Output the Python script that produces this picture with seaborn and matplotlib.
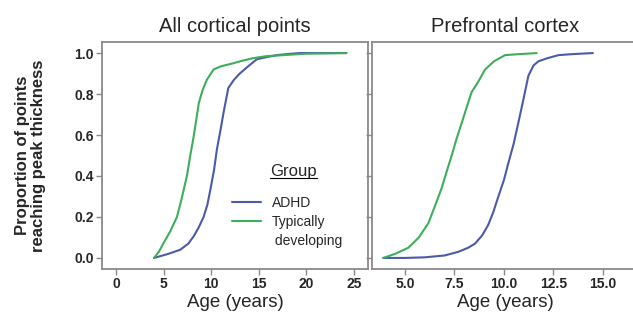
import numpy as np
import pandas as pd
import matplotlib.pyplot as plt
import matplotlib.transforms as mtransforms
import seaborn as sns

# curves (age in years, proportion reaching peak)
all_adhd_x = [4.0, 5.5, 6.75, 7.6, 8.15, 8.7, 9.2, 9.6, 9.9, 10.3, 10.6, 11.0, 11.3, 11.8, 12.4, 13.0, 14.0, 14.8, 15.8, 16.9, 18.0, 19.3, 21.0, 24.2]
all_adhd_y = [0.0, 0.02, 0.04, 0.07, 0.105, 0.15, 0.2, 0.26, 0.33, 0.43, 0.53, 0.63, 0.71, 0.83, 0.87, 0.9, 0.94, 0.97, 0.98, 0.99, 0.995, 1.0, 1.0, 1.0]
all_td_x = [4.0, 4.5, 5.0, 5.7, 6.4, 6.9, 7.45, 7.8, 8.15, 8.7, 9.1, 9.55, 10.25, 11.0, 12.3, 13.3, 14.4, 15.8, 17.6, 20.0, 24.2]
all_td_y = [0.0, 0.03, 0.073, 0.13, 0.2, 0.29, 0.4, 0.5, 0.59, 0.756, 0.82, 0.87, 0.92, 0.935, 0.95, 0.963, 0.975, 0.985, 0.99, 0.997, 1.0]

pfc_adhd_x = [3.9, 5.0, 6.0, 7.0, 7.7, 8.2, 8.54, 8.9, 9.2, 9.45, 9.72, 10.0, 10.23, 10.5, 10.73, 11.0, 11.24, 11.5, 11.75, 12.2, 12.76, 13.5, 14.5]
pfc_adhd_y = [0.0, 0.0, 0.003, 0.012, 0.03, 0.05, 0.07, 0.11, 0.16, 0.22, 0.3, 0.38, 0.465, 0.56, 0.66, 0.78, 0.89, 0.94, 0.96, 0.975, 0.99, 0.995, 1.0]
pfc_td_x = [3.9, 4.5, 5.17, 5.7, 6.18, 6.5, 6.85, 7.1, 7.36, 7.6, 7.87, 8.1, 8.37, 8.7, 9.05, 9.5, 10.06, 10.8, 11.66]
pfc_td_y = [0.0, 0.02, 0.05, 0.1, 0.17, 0.25, 0.34, 0.42, 0.5, 0.58, 0.66, 0.73, 0.81, 0.86, 0.92, 0.96, 0.99, 0.995, 1.0]

groups = ["ADHD", "Typically\n developing"]
colors = ["#4b5aab", "#3dae5a"]


def make_df(adhd_x, adhd_y, td_x, td_y):
    a = pd.DataFrame({"age": adhd_x, "prop": adhd_y, "group": groups[0]})
    t = pd.DataFrame({"age": td_x, "prop": td_y, "group": groups[1]})
    return pd.concat([a, t], ignore_index=True)


sns.set_style("white")
plt.rcParams["font.family"] = ["Liberation Sans", "DejaVu Sans"]

fig = plt.figure(figsize=(6.33, 3.21), dpi=100)
ax1 = fig.add_axes([102 / 633, 52 / 321, 266 / 633, 227 / 321])
ax2 = fig.add_axes([372 / 633, 52 / 321, 266 / 633, 227 / 321])

palette = dict(zip(groups, colors))
sns.lineplot(data=make_df(all_adhd_x, all_adhd_y, all_td_x, all_td_y), x="age", y="prop",
             hue="group", palette=palette, sort=False, estimator=None, lw=1.5, ax=ax1)
sns.lineplot(data=make_df(pfc_adhd_x, pfc_adhd_y, pfc_td_x, pfc_td_y), x="age", y="prop",
             hue="group", palette=palette, sort=False, estimator=None, lw=1.5, ax=ax2, legend=False)

ax1.set_xlim(-1.47, 26.47)
ax1.set_xticks([0, 5, 10, 15, 20, 25])
ax2.set_xlim(3.33, 16.78)
ax2.set_xticks([5.0, 7.5, 10.0, 12.5, 15.0])
ax2.set_xticklabels(["5.0", "7.5", "10.0", "12.5", "15.0"])

for ax in (ax1, ax2):
    ax.set_ylim(-0.054, 1.054)
    ax.set_yticks([0.0, 0.2, 0.4, 0.6, 0.8, 1.0])
    for s in ax.spines.values():
        s.set_color("#8a8a8a")
        s.set_linewidth(1.3)
    ax.tick_params(axis="both", direction="out", length=4, width=1, color="#8a8a8a",
                   labelsize=10, pad=2, left=True, bottom=True)
    for lab in ax.get_xticklabels() + ax.get_yticklabels():
        lab.set_fontweight("bold")
    ax.set_xlabel("Age (years)", fontsize=13.5, labelpad=2)
    ax.set_ylabel("")

ax1.set_yticklabels(["0.0", "0.2", "0.4", "0.6", "0.8", "1.0"], fontweight="bold")
ax2.set_yticklabels([])
ax1.set_title("All cortical points", fontsize=14.5, pad=7)
ax2.set_title("Prefrontal cortex", fontsize=14.5, pad=7)
ax1.set_ylabel("Proportion of points\nreaching peak thickness", fontsize=12,
               fontweight="bold", labelpad=20, linespacing=1.1)

leg = ax1.legend(title="Group", frameon=False, loc="lower right", bbox_to_anchor=(0.905, 0.092),
                 fontsize=10, title_fontsize=12, handlelength=2.1, handletextpad=0.75,
                 labelspacing=0.4, borderpad=0, borderaxespad=0)
for line in leg.get_lines():
    line.set_linewidth(1.5)
for t in leg.get_texts():
    t.set_linespacing(1.45)
leg._legend_box.sep = 12  # more room below the title

fig.canvas.draw()

# put the second handle level with the first line of its label
lines = leg.get_lines()
texts = leg.get_texts()
def handle_y(line):
    return line.get_transform().transform((line.get_xdata()[0], line.get_ydata()[0]))[1]
off = texts[0].get_window_extent().y1 - handle_y(lines[0])
shift = texts[1].get_window_extent().y1 - off - handle_y(lines[1])
lines[1].set_transform(lines[1].get_transform() + mtransforms.Affine2D().translate(0, shift))

# nudge the title right, over the labels, and underline it
title = leg.get_title()
title.set_transform(title.get_transform() + mtransforms.Affine2D().translate(6, 0))
fig.canvas.draw()
bb = title.get_window_extent().transformed(fig.transFigure.inverted())
fig.add_artist(plt.Line2D([bb.x0, bb.x1], [bb.y0 + 0.004, bb.y0 + 0.004], color="black", lw=0.8,
                          transform=fig.transFigure))

fig.savefig("out.png", dpi=100)
